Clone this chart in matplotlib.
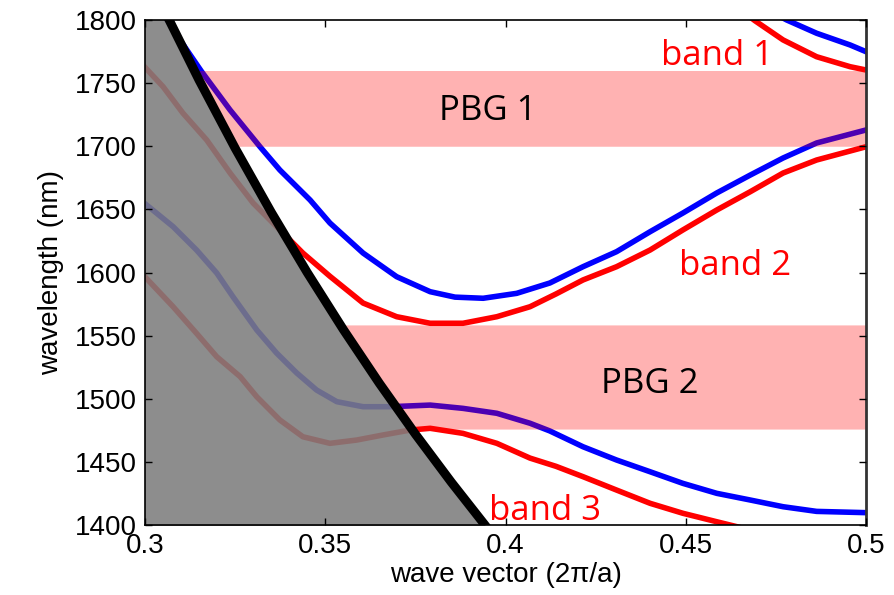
import numpy as np
import matplotlib
matplotlib.use("Agg")
import matplotlib.pyplot as plt

# band structure of the waveguide, wave vector in units of 2pi/a, wavelength in nm
band1_blue_k = [0.470, 0.4780, 0.4863, 0.4956, 0.5]
band1_blue_wl = [1812, 1800.0, 1789.5, 1780.2, 1774.9]
band1_red_k = [0.462, 0.4692, 0.4770, 0.4863, 0.4956, 0.5]
band1_red_wl = [1815, 1799.4, 1784.2, 1770.9, 1763.0, 1760.4]

band2_blue_k = [0.3050, 0.3097, 0.3157, 0.3236, 0.3319, 0.3374, 0.3458, 0.3513,
                0.3605, 0.3698, 0.3791, 0.3860, 0.3938, 0.4031, 0.4123, 0.4215,
                0.4308, 0.4401, 0.4492, 0.4586, 0.4679, 0.4770, 0.4863, 0.5]
band2_blue_wl = [1805, 1784.2, 1759.1, 1728.7, 1699.6, 1681.2, 1657.4, 1639.2,
                 1615.4, 1596.7, 1584.8, 1580.5, 1579.6, 1583.5, 1591.7, 1604.6,
                 1616.5, 1632.3, 1647.1, 1663.0, 1677.2, 1690.7, 1702.6, 1712.9]
band2_red_k = [0.3, 0.3050, 0.3105, 0.3171, 0.3236, 0.3300, 0.3365, 0.3438,
               0.3513, 0.3605, 0.3698, 0.3791, 0.3882, 0.3976, 0.4068, 0.4140,
               0.4215, 0.4308, 0.4401, 0.4492, 0.4586, 0.4679, 0.4770, 0.4863, 0.5]
band2_red_wl = [1762.5, 1747.2, 1726.3, 1705.0, 1678.8, 1655.0, 1636.3, 1615.4,
                1597.0, 1575.8, 1565.0, 1559.8, 1559.8, 1565.0, 1572.9, 1583.0,
                1594.1, 1604.6, 1617.8, 1633.7, 1649.5, 1664.0, 1678.8, 1689.1, 1699.6]

band3_blue_k = [0.3, 0.3078, 0.3143, 0.3199, 0.3244, 0.3310, 0.3365, 0.3421,
                0.3476, 0.3532, 0.3605, 0.3680, 0.3791, 0.3882, 0.3976, 0.4068,
                0.4123, 0.4215, 0.4308, 0.4401, 0.4492, 0.4586, 0.4679, 0.4770,
                0.4863, 0.5]
band3_blue_wl = [1654.5, 1636.3, 1617.8, 1599.6, 1580.8, 1554.5, 1536.2, 1520.4,
                 1506.9, 1497.7, 1493.7, 1493.7, 1495.0, 1492.4, 1488.5, 1480.6,
                 1474.5, 1462.0, 1451.5, 1442.2, 1433.0, 1425.1, 1419.8, 1414.5,
                 1410.8, 1409.8]
band3_red_k = [0.3, 0.3078, 0.3143, 0.3199, 0.3264, 0.3310, 0.3374, 0.3438,
               0.3513, 0.3587, 0.3660, 0.3735, 0.3791, 0.3882, 0.3976, 0.4068,
               0.4140, 0.4215, 0.4308, 0.4401, 0.4492, 0.4586, 0.4680]
band3_red_wl = [1596.5, 1572.9, 1551.8, 1533.3, 1517.5, 1501.6, 1483.2, 1469.9,
                1464.7, 1467.3, 1471.3, 1475.2, 1476.6, 1472.6, 1464.7, 1453.0,
                1446.5, 1438.3, 1427.7, 1417.2, 1409.3, 1402.6, 1396.0]

# light line
light_k = [0.3040, 0.3067, 0.315, 0.325, 0.335, 0.345, 0.355, 0.365, 0.375, 0.385, 0.3943, 0.3975]
light_wl = [1815, 1800, 1752.4, 1698.5, 1647.8, 1600.0, 1554.9, 1512.3, 1472.0, 1433.8, 1400, 1388]

# photonic band gaps (nm)
pbg1 = (1700, 1760)
pbg2 = (1476, 1558.5)

plt.rcParams['font.family'] = ['Liberation Sans', 'DejaVu Sans']

fig = plt.figure(figsize=(8.94, 5.95), dpi=100)
ax = fig.add_axes([0.1622, 0.1176, 0.8065, 0.8488])

lw = 4.0
for k, wl, c in [(band1_blue_k, band1_blue_wl, 'blue'),
                 (band1_red_k, band1_red_wl, 'red'),
                 (band2_blue_k, band2_blue_wl, 'blue'),
                 (band2_red_k, band2_red_wl, 'red'),
                 (band3_blue_k, band3_blue_wl, 'blue'),
                 (band3_red_k, band3_red_wl, 'red')]:
    ax.plot(k, wl, color=c, lw=lw, zorder=2, solid_joinstyle='round')

# band gaps start at the light line
lk = np.array(light_k)[::-1]
lwl = np.array(light_wl)[::-1]
for lo, hi in (pbg1, pbg2):
    yy = np.linspace(lo, hi, 60)
    xl = np.interp(yy, lwl, lk)
    ax.fill_betweenx(yy, xl, 0.5, color='red', alpha=0.3, lw=0, zorder=3)

# region above the light line
ax.fill_betweenx(light_wl, 0.29, light_k, color='#7d7d7d', alpha=0.88, lw=0, zorder=4)
ax.plot(light_k, light_wl, color='black', lw=6.5, zorder=5)

tfont = dict(family=['Open Sans', 'DejaVu Sans'], fontsize=25)
ax.text(0.4587, 1764.4, 'band 1', color='red', ha='center', va='baseline', zorder=6, **tfont)
ax.text(0.3951, 1720.8, 'PBG 1', color='black', ha='center', va='baseline', zorder=6, **tfont)
ax.text(0.4637, 1598.0, 'band 2', color='red', ha='center', va='baseline', zorder=6, **tfont)
ax.text(0.4401, 1504.3, 'PBG 2', color='black', ha='center', va='baseline', zorder=6, **tfont)
ax.text(0.4110, 1404.0, 'band 3', color='red', ha='center', va='baseline', zorder=6, **tfont)

ax.set_xlim(0.3, 0.5)
ax.set_ylim(1400, 1800)
ax.set_xticks([0.3, 0.35, 0.4, 0.45, 0.5])
ax.set_xticklabels(['0.3', '0.35', '0.4', '0.45', '0.5'])
ax.set_yticks(np.arange(1400, 1801, 50))
ax.tick_params(direction='in', length=5, width=1, top=True, right=True,
               labelsize=20, pad=6)
for sp in ax.spines.values():
    sp.set_linewidth(1.2)
    sp.set_zorder(10)
ax.spines['right'].set_linewidth(2)
ax.spines['right'].set_color('#333333')
ax.xaxis.set_zorder(10)
ax.yaxis.set_zorder(10)

ax.set_xlabel('wave vector (2π/a)', fontsize=20, labelpad=2)
ax.set_ylabel('wavelength (nm)', fontsize=20, labelpad=8)

fig.savefig('out.png', dpi=100)
